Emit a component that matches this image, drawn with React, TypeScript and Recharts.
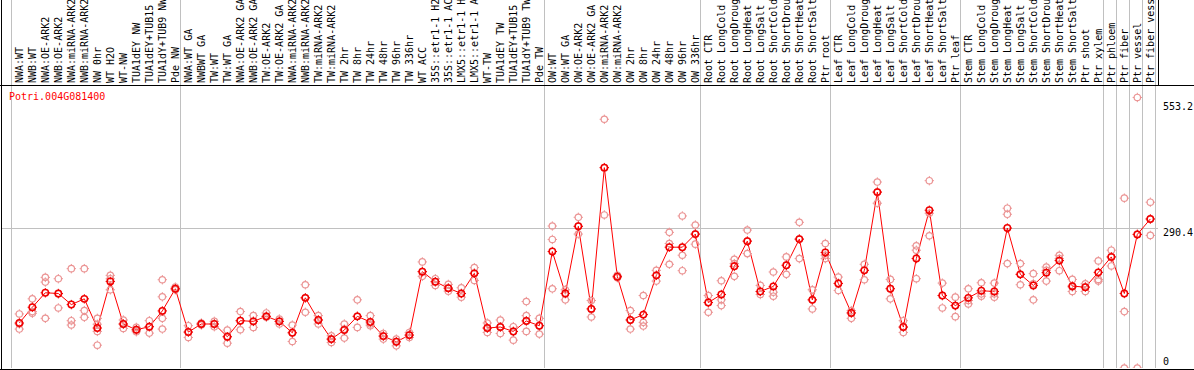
import React from "react";
import { ComposedChart, Line, Scatter, XAxis, YAxis, ReferenceLine } from "recharts";

export const geneName = "Potri.004G081400";

export const labels = [
  "NWA:WT", "NWB:WT", "NWA:OE-ARK2", "NWB:OE-ARK2", "NWA:miRNA-ARK2", "NWB:miRNA-ARK2",
  "NW 0hr", "WT H2O", "WT-NW", "TUA1dEY NW", "TUA1dEY+TUB15 NW", "TUA1dY+TUB9 NW", "Pde NW",
  "NWA:WT GA", "NWBWT GA", "TW:WT", "TW:WT GA", "NWA:OE-ARK2 GA", "NWB:OE-ARK2 GA",
  "TW:OE-ARK2", "TW:OE-ARK2 GA", "NWA:miRNA-ARK2 GA", "NWB:miRNA-ARK2 GA", "TW:miRNA-ARK2",
  "TW:miRNA-ARK2 GA", "TW 2hr", "TW 8hr", "TW 24hr", "TW 48hr", "TW 96hr", "TW 336hr", "WT ACC",
  "35S::etr1-1 H2O", "35S::etr1-1 ACC", "LMX5::etr1-1 H2O", "LMX5::etr1-1 ACC", "WT-TW",
  "TUA1dEY TW", "TUA1dEY+TUB15 TW", "TUA1dY+TUB9 TW", "Pde TW",
  "OW:WT", "OW:WT GA", "OW:OE-ARK2", "OW:OE-ARK2 GA", "OW:miRNA-ARK2", "OW:miRNA-ARK2 GA",
  "OW 2hr", "OW 8hr", "OW 24hr", "OW 48hr", "OW 96hr", "OW 336hr",
  "Root CTR", "Root LongCold", "Root LongDrought", "Root LongHeat", "Root LongSalt",
  "Root ShortCold", "Root ShortDrought", "Root ShortHeat", "Root ShortSalt", "Ptr root",
  "Leaf CTR", "Leaf LongCold", "Leaf LongDrought", "Leaf LongHeat", "Leaf LongSalt",
  "Leaf ShortCold", "Leaf ShortDrought", "Leaf ShortHeat", "Leaf ShortSalt", "Ptr leaf",
  "Stem CTR", "Stem LongCold", "Stem LongDrought", "Stem LongHeat", "Stem LongSalt",
  "Stem ShortCold", "Stem ShortDrought", "Stem ShortHeat", "Stem ShortSalt", "Ptr shoot",
  "Ptr xylem", "Ptr phloem", "Ptr fiber", "Ptr vessel", "Ptr fiber vessel",
];

export const means = [
  93.5, 126.2, 156.3, 154.8, 131.8, 143.7, 83.1, 179.9, 91.4, 79.5, 85.8, 118.6, 164.6,
  74.7, 91.4, 91.4, 64.9, 98.3, 96.9, 107.3, 96.9, 73.2, 145.8, 99.8, 60, 78.9, 107.3, 95.6,
  66.3, 54.4, 68.4, 200.2, 179.3, 165.9, 154.8, 196.7, 83.1, 85.1, 75.9, 97.7, 87.9,
  242, 154.8, 294.4, 122.8, 416.3, 189.7, 99.8, 110.9, 192.5, 251, 251, 278.2,
  136, 152.7, 211.3, 263.6, 159, 169.5, 213.4, 267.8, 141.6, 240,
  175.7, 114.4, 202.9, 365.5, 164.6, 85.1, 227.4, 327.8, 150.6, 129.7,
  145.8, 160.5, 159, 290.8, 194.6, 171.5, 198.1, 223.2, 170.1, 168, 198.7,
  230.8, 154.8, 277.6, 309.6,
];

export const rep1 = [
  112.3, 143.7, 188.3, 185.5, 206.4, 206.4, 103.2, 192.5, 99.7, 84.4, 98.3, 183.4, 168.1,
  87.9, 93.5, 96.9, 78.8, 117.2, 108.8, 114.4, 101.8, 89.3, 173, 108.8, 67, 91.4, 141.6, 108.8,
  71.8, 60, 73.9, 220.4, 185.5, 173.7, 166.7, 208.5, 93.5, 99.7, 85.8, 138.1, 103.2,
  295, 162.5, 313.1, 140.2, 516.8, 192.5, 119.3, 150.6, 202.9, 281.8, 315.9, 297.1,
  150.6, 181.3, 226, 286.6, 171.6, 199.5, 230.8, 302.7, 162.5, 258.7,
  189, 119.3, 215.5, 386.4, 184.1, 98.3, 253.9, 389.2, 176.4, 147.2,
  164.6, 177.1, 176.4, 332, 216.9, 196, 209.9, 234.3, 184.1, 175, 222.5,
  244.8, 352.9, 562.1, 344.5,
];

export const rep2 = [
  91.4, 117.2, 178.5, 124.8, 98.3, 119.3, 76, 185.5, 82.3, 75.3, 72.5, 147.9, 162.5,
  63.5, 91.4, 85.8, 51.6, 79.5, 84.4, 105.3, 91.4, 55.1, 115.8, 91.4, 53, 62.1, 84.4, 87.9,
  60, 46, 63.5, 190.4, 171.6, 159.7, 147.2, 182, 73.9, 71.8, 57.9, 98.3, 70.4,
  267.1, 141.6, 278.3, 122.7, 318, 187.6, 80.9, 94.8, 180.6, 258.7, 234.3, 257.3,
  115.8, 141.6, 190.4, 237.8, 152.7, 157.6, 194.6, 227.3, 122.7, 227.3,
  161.1, 103.2, 183.4, 342.4, 143.7, 73.9, 185.5, 274.8, 124.8, 106.7,
  133.2, 149.2, 147.2, 319.4, 173, 141.6, 180.6, 202.2, 159, 159, 184.1,
  212, 117.2, 277.6, 275.5,
];

export const rep3 = [
  80.9, 113.7, 103.2, 154.1, 89.3, 105.3, 47.4, 162.5, 91.4, 78.8, 85.8, 103.2, 164.6,
  74.6, 89.3, 91.4, 64.9, 98.3, 96.9, 107.4, 96.9, 73.2, 145.8, 99.7, 60, 80.9, 107.4, 91.4,
  66.3, 54.4, 68.3, 200.2, 179.2, 166, 154.8, 196.7, 83, 85.1, 76, 76, 87.9,
  164.6, 154.8, 294.3, 106, 416.3, 189.7, 99.7, 87.2, 192.5, 215.5, 202.2, 278.3,
  136, 129.7, 216.9, 263.6, 159, 149.2, 213.4, 267.8, 141.6, 234.3,
  175.7, 114.4, 202.9, 365.4, 165.3, 85.1, 244.8, 321.5, 150.6, 129.7,
  140.2, 154.1, 154.1, 216.9, 194.6, 175, 202.9, 227.3, 168.1, 168.1, 180.6,
  230.8, 0, 0, 309.6,
];

// a few samples have a fourth replicate
export const rep4 = [
  { idx: 6, value: 91 },
  { idx: 11, value: 80.9 },
  { idx: 39, value: 108.8 },
];

export const groupStarts = [0, 13, 41, 53, 63, 73, 84, 85, 86, 87, 88];
export const yTicks = [0, 290.4, 553.2];

const tableData = labels.map((label, i) => ({ idx: i, label, mean: means[i] }));
const repPoints = [
  ...rep1.map((value, idx) => ({ idx, value })),
  ...rep2.map((value, idx) => ({ idx, value })),
  ...rep3.map((value, idx) => ({ idx, value })),
  ...rep4,
];

const FONT = "'DejaVu Sans Mono', monospace";

const Marker = ({ cx, cy, color, w }: any) => {
  if (cx == null || cy == null) return <g />;
  const r = 3.2;
  return (
    <g>
      <circle cx={cx} cy={cy} r={r} fill="none" stroke={color} strokeWidth={w} />
      <path
        d={`M${cx - r - 1.5},${cy}h1.5M${cx + r},${cy}h1.5M${cx},${cy - r - 1.5}v1.5M${cx},${cy + r}v1.5`}
        stroke={color}
        strokeWidth={1}
      />
    </g>
  );
};

const TopTick = ({ x, y, payload }: any) => {
  const bx = x + 4;
  return (
    <text
      x={bx}
      y={y}
      transform={`rotate(-90, ${bx}, ${y})`}
      textAnchor="start"
      fontFamily={FONT}
      fontSize={10}
      fill="#000"
    >
      {labels[payload.value]}
    </text>
  );
};

const RightTick = ({ x, y, payload }: any) => (
  <text x={x} y={y} dy={payload.value === 0 ? -3 : 8} fontFamily={FONT} fontSize={10} fill="#000" textAnchor="start">
    {payload.value}
  </text>
);

const GroupLine = (props: any) => (
  <line
    x1={props.x1}
    x2={props.x2}
    y1={0}
    y2={Math.max(props.y1, props.y2)}
    stroke="#c0c0c0"
    strokeWidth={1}
    shapeRendering="crispEdges"
  />
);

const frame = (style: React.CSSProperties) => (
  <div style={{ position: "absolute", background: "#000", ...style }} />
);

export default function App() {
  return (
    <div style={{ position: "absolute", left: 0, top: 0, width: 1194, height: 370, background: "#fff", overflow: "hidden" }}>
      <ComposedChart width={1194} height={370} data={tableData} margin={{ top: 0, right: 0, bottom: 2, left: 1 }}>
        <XAxis
          xAxisId={0}
          orientation="top"
          type="number"
          dataKey="idx"
          domain={[-1.41, 87.59]}
          ticks={labels.map((_, i) => i)}
          interval={0}
          height={85}
          axisLine={false}
          tickLine={false}
          tickSize={0}
          tickMargin={2}
          tick={<TopTick />}
          allowDataOverflow
        />
        <YAxis
          orientation="right"
          width={36}
          domain={[0, 588]}
          ticks={yTicks}
          interval={0}
          axisLine={false}
          tickLine={false}
          tickSize={0}
          tickMargin={5}
          tick={<RightTick />}
          allowDataOverflow
        />
        <ReferenceLine y={290.4} stroke="#c0c0c0" strokeWidth={1} shapeRendering="crispEdges" />
        {groupStarts.map((g) => (
          <ReferenceLine key={g} x={g - 0.62} shape={GroupLine} />
        ))}
        <Scatter
          data={repPoints}
          dataKey="value"
          isAnimationActive={false}
          shape={(p: any) => <Marker cx={p.cx} cy={p.cy} color="#eb9595" w={1.2} />}
        />
        <Line
          dataKey="mean"
          stroke="#ff0000"
          strokeWidth={1}
          isAnimationActive={false}
          dot={(p: any) => <Marker key={p.index} cx={p.cx} cy={p.cy} color="#f00000" w={1.5} />}
          activeDot={false}
        />
      </ComposedChart>
      <div
        style={{
          position: "absolute",
          left: 9,
          top: 91,
          fontFamily: FONT,
          fontSize: 10,
          lineHeight: "12px",
          color: "#ff0000",
        }}
      >
        {geneName}
      </div>
      {frame({ left: 0, top: 85, width: 1194, height: 1 })}
      {frame({ left: 0, top: 369, width: 1194, height: 1 })}
      {frame({ left: 1, top: 0, width: 1, height: 370 })}
      {frame({ left: 1158, top: 0, width: 1, height: 85 })}
    </div>
  );
}
